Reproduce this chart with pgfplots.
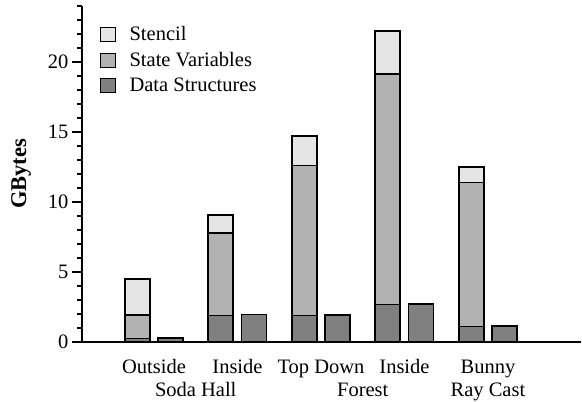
\documentclass[border=0pt]{standalone}
\usepackage{pgfplots}
\pgfplotsset{compat=1.18}
\usepackage{fontspec}
\setmainfont{Liberation Serif}
\definecolor{cStencil}{gray}{0.90}
\definecolor{cState}{gray}{0.70}
\definecolor{cDS}{gray}{0.50}
\newcommand{\bigfont}{\fontsize{20.5}{24.6}\selectfont}
\begin{document}
\begin{tikzpicture}
\useasboundingbox (-82pt,-60pt) rectangle (500pt,342pt);
\begin{axis}[
  scale only axis,
  width=499pt, height=336pt,
  xmin=0.138, xmax=6.114,
  ymin=0, ymax=24,
  axis lines*=left,
  axis line style={line width=1.3pt, -},
  ytick={0,5,10,15,20},
  minor ytick={1,2,3,4,6,7,8,9,11,12,13,14,16,17,18,19,21,22,23,24},
  tick align=outside,
  major tick length=10pt,
  minor tick length=5pt,
  every tick/.style={line width=1.2pt, black},
  xtick={1,2,3,4,5},
  xticklabels={Outside,Inside,Top Down,Inside,Bunny},
  extra x ticks={1.5,3.5,5},
  extra x tick labels={Soda Hall,Forest,Ray Cast},
  extra x tick style={xticklabel style={anchor=base, yshift=-33pt}, major tick length=0pt},
  x tick style={draw=none},
  xticklabel style={anchor=base, yshift=-21pt},
  tick label style={font=\bigfont},
  /pgf/number format/assume math mode=true,
  ylabel={GBytes},
  ylabel style={font=\fontsize{22.5}{26}\selectfont\bfseries, yshift=10pt},
  ybar, bar width=25pt, bar shift=0pt,
  legend style={draw=none, fill=none, at={(axis description cs:0.036,0.945)}, anchor=north west, font=\bigfont, inner sep=0pt, row sep=6pt, legend cell align=left},
  legend image code/.code={\draw[#1, line width=1.2pt] (0pt,-7pt) rectangle (15pt,7pt); \path (26pt,0pt);},
]
% cumulative tops of the left (stacked) bars
\addplot[fill=cStencil, draw=black, line width=1.6pt] coordinates {(0.8,4.5) (1.8,9.07) (2.8,14.7) (3.8,22.2) (4.8,12.5)};
\addlegendentry{Stencil}
\addplot[fill=cState, draw=black, line width=1.6pt] coordinates {(0.8,1.93) (1.8,7.8) (2.8,12.6) (3.8,19.15) (4.8,11.4)};
\addlegendentry{State Variables}
\addplot[fill=cDS, draw=black, line width=1.6pt] coordinates {(0.8,0.25) (1.8,1.9) (2.8,1.88) (3.8,2.68) (4.8,1.1)};
\addlegendentry{Data Structures}
% right bars
\addplot[fill=cDS, draw=black, line width=1.6pt, forget plot] coordinates {(1.2,0.27) (2.2,1.96) (3.2,1.93) (4.2,2.73) (5.2,1.14)};
\end{axis}
\end{tikzpicture}
\end{document}
